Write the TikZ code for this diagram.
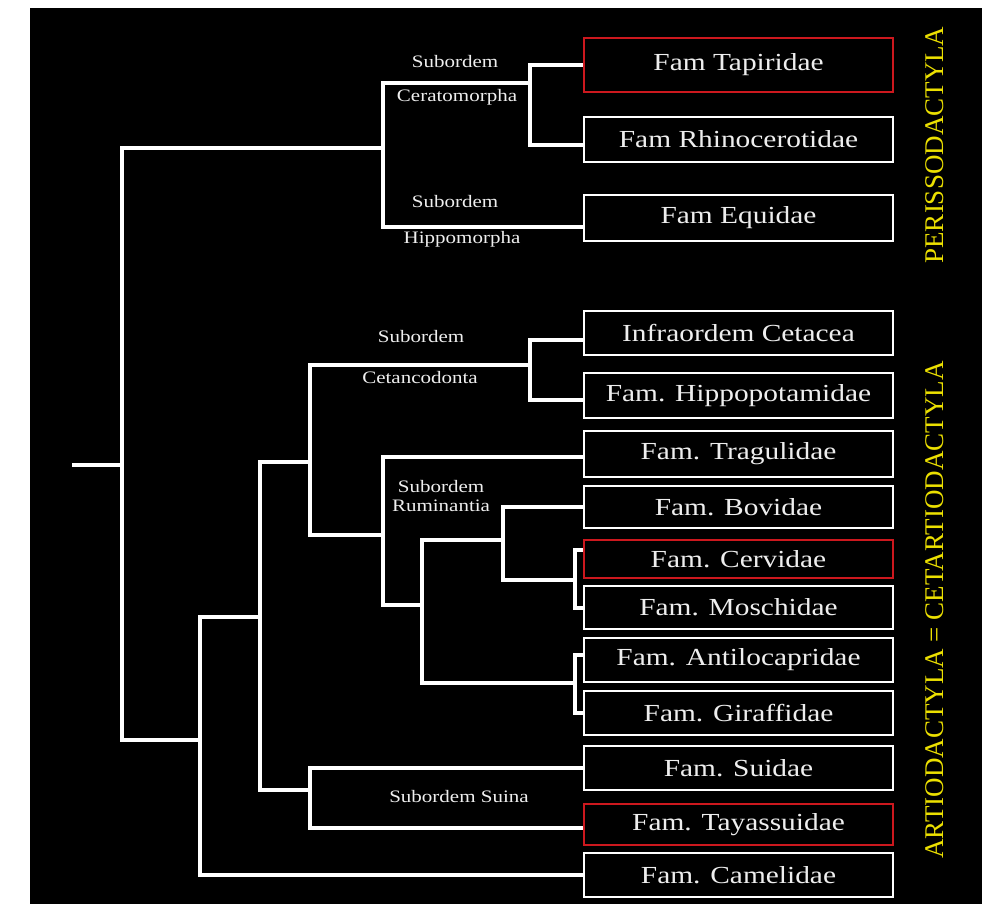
\documentclass[tikz,border=0pt]{standalone}
\usepackage{fontspec}
\setmainfont[FakeStretch=1.2]{Liberation Serif}
\newfontfamily\orderfont{Liberation Serif}
\usetikzlibrary{positioning}
\definecolor{phRed}{RGB}{204,24,30}
\definecolor{phYellow}{RGB}{236,224,0}
\definecolor{phText}{RGB}{238,238,238}
\tikzset{
    famBox/.style={
        draw=#1,line width=2.5pt,fill=black,inner sep=0pt,
        minimum width=309pt,minimum height=44pt,
        text=phText,font=\fontsize{24.5}{28}\selectfont
    },
    famBox/.default=white,
    branch/.style={
        draw=white,line width=4pt
    },
    cladeLabel/.style={
        text=phText,inner sep=0pt,align=center,
        font=\fontsize{17.5}{20}\selectfont
    },
    orderLabel/.style={
        text=phYellow,inner sep=0pt,rotate=90,
        font=\orderfont\fontsize{27}{31}\selectfont
    }
}

\begin{document}
\begin{tikzpicture}[x=1pt,y=-1pt]

\useasboundingbox (0,0) rectangle (982,904);
\fill[black] (30,8) rectangle (982,904);

\node[famBox=phRed,minimum height=54pt] (tap) at (738.5,65) {Fam Tapiridae};
\node[famBox,minimum height=45pt] (rhino) at (738.5,139.5) {Fam Rhinocerotidae};
\node[famBox,minimum height=46pt] (equ) at (738.5,218) {Fam Equidae};
\node[famBox] (ceta) at (738.5,333) {Infraordem Cetacea};
\node[famBox,minimum height=45pt] (hippo) at (738.5,395.5) {Fam. Hippopotamidae};
\node[famBox,minimum height=46pt] (trag) at (738.5,454) {Fam. Tragulidae};
\node[famBox,minimum height=42pt] (bov) at (738.5,507) {Fam. Bovidae};
\node[famBox=phRed,minimum height=38pt] (cerv) at (738.5,559) {Fam. Cervidae};
\node[famBox,minimum height=43pt] (mosch) at (738.5,607.5) {Fam. Moschidae};
\node[famBox] (antil) at (738.5,660) {Fam. Antilocapridae};
\node[famBox] (giraf) at (738.5,713) {Fam. Giraffidae};
\node[famBox] (suid) at (738.5,768) {Fam. Suidae};
\node[famBox=phRed,minimum height=41pt] (tayas) at (738.5,824.5) {Fam. Tayassuidae};
\node[famBox] (camel) at (738.5,875) {Fam. Camelidae};

\coordinate (stem) at (72,465);
\coordinate (nRoot) at (122,465);
\coordinate (nPeri) at (383,148);
\coordinate (nCera) at (530,83);
\coordinate (nArtio) at (200,740);
\coordinate (nA1) at (260,617);
\coordinate (nA2) at (310,462);
\coordinate (nCetan) at (530,365);
\coordinate (nRumin) at (383,535);
\coordinate (nPecora) at (422,605);
\coordinate (nBovid) at (503,540);
\coordinate (nCervid) at (575,580);
\coordinate (nGiraf) at (575,683);
\coordinate (nSuina) at (310,790);

\draw[branch] (stem) -- (nRoot);
\draw[branch] (nRoot) |- (nPeri);
\draw[branch] (nRoot) |- (nArtio);
\draw[branch] (nPeri) |- (nCera);
\draw[branch] (nPeri) |- ([yshift=-9pt]equ.west);
\draw[branch] (nCera) |- (tap.west);
\draw[branch] (nCera) |- ([yshift=-5.5pt]rhino.west);
\draw[branch] (nArtio) |- (nA1);
\draw[branch] (nArtio) |- (camel.west);
\draw[branch] (nA1) |- (nA2);
\draw[branch] (nA1) |- (nSuina);
\draw[branch] (nSuina) |- (suid.west);
\draw[branch] (nSuina) |- ([yshift=-3.5pt]tayas.west);
\draw[branch] (nA2) |- (nCetan);
\draw[branch] (nA2) |- (nRumin);
\draw[branch] (nCetan) |- ([yshift=-7pt]ceta.west);
\draw[branch] (nCetan) |- ([yshift=-4.5pt]hippo.west);
\draw[branch] (nRumin) |- ([yshift=-3pt]trag.west);
\draw[branch] (nRumin) |- (nPecora);
\draw[branch] (nPecora) |- (nBovid);
\draw[branch] (nPecora) |- (nGiraf);
\draw[branch] (nBovid) |- (bov.west);
\draw[branch] (nBovid) |- (nCervid);
\draw[branch] (nCervid) |- ([yshift=9pt]cerv.west);
\draw[branch] (nCervid) |- (mosch.west);
\draw[branch] (nGiraf) |- ([yshift=5pt]antil.west);
\draw[branch] (nGiraf) |- (giraf.west);

\node[cladeLabel] (ceraTop) at (455,62) {Subordem};
\node[cladeLabel] (ceraName) at (457,97) {Ceratomorpha};
\node[cladeLabel] (hippoTop) at (455,202) {Subordem};
\node[cladeLabel] (hippoName) at (462,239) {Hippomorpha};
\node[cladeLabel] (cetTop) at (421,337) {Subordem};
\node[cladeLabel] (cetName) at (420,378) {Cetancodonta};
\node[cladeLabel] (rumName) at (441,496) {Subordem\\[-1pt]Ruminantia};
\node[cladeLabel] (suinaName) at (459,797) {Subordem Suina};

\node[orderLabel] (perisso) at (935,145) {PERISSODACTYLA};
\node[orderLabel] (artio) at (935,610) {ARTIODACTYLA = CETARTIODACTYLA};

\end{tikzpicture}
\end{document}
